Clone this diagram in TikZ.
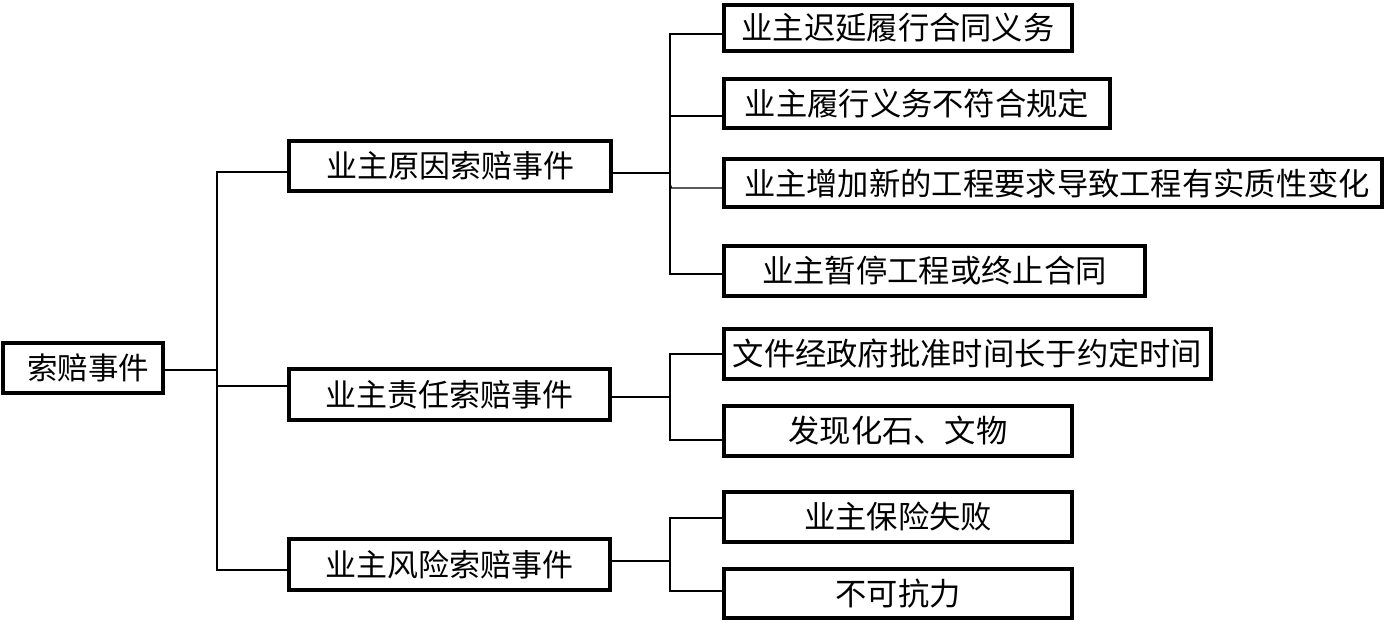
\documentclass[tikz,border=0pt]{standalone}
\usepackage{fontspec}
\setmainfont{Noto Sans CJK SC}
\begin{document}
\begin{tikzpicture}[x=1pt,y=-1pt,
  box/.style={draw=black,line width=4pt,inner sep=0pt,fill=white,align=center},
  conn/.style={draw=black,line width=1.4pt},
  mid/.style={box,font=\fontsize{31}{36}\selectfont},
  leaf/.style={box,font=\fontsize{31.3}{36}\selectfont}]
\useasboundingbox[fill=white] (0,0) rectangle (1386,622);
% nodes
\node[box,font=\fontsize{30.5}{36}\selectfont,minimum width=160pt,minimum height=50pt] (root) at (83,368) {\hspace{10pt}索赔事件};
\node[mid,minimum width=322pt,minimum height=50pt] (b1) at (450,166) {业主原因索赔事件};
\node[mid,minimum width=321pt,minimum height=51pt] (b2) at (449.5,394.5) {业主责任索赔事件};
\node[mid,minimum width=321pt,minimum height=51pt] (b3) at (449.5,564.5) {业主风险索赔事件};
\node[leaf,minimum width=348pt,minimum height=46pt] (l1) at (898,28) {业主迟延履行合同义务};
\node[leaf,minimum width=386pt,minimum height=49pt] (l2) at (917,103.5) {业主履行义务不符合规定};
\node[leaf,minimum width=658pt,minimum height=48pt] (l3) at (1053,183) {\hspace{8pt}业主增加新的工程要求导致工程有实质性变化};
\node[leaf,minimum width=421pt,minimum height=50pt] (l4) at (934.5,271) {业主暂停工程或终止合同};
\node[leaf,minimum width=487pt,minimum height=50pt] (l5) at (967.5,354) {文件经政府批准时间长于约定时间};
\node[leaf,minimum width=348pt,minimum height=50pt] (l6) at (898,431) {发现化石、文物};
\node[leaf,minimum width=348pt,minimum height=50pt] (l7) at (898,517) {业主保险失败};
\node[leaf,minimum width=348pt,minimum height=49pt] (l8) at (898,593.5) {不可抗力};
% junction coordinates
\coordinate (j0) at (217,370);
\coordinate (t1) at (217,172);
\coordinate (t2) at (217,386);
\coordinate (t3) at (217,570);
\coordinate (k1) at (670,173);
\coordinate (k2) at (670,397);
\coordinate (k3) at (670,561);
% connectors level 1
\draw[conn] (root.east |- j0) -- (j0);
\draw[conn] (b1.west |- t1) -- (t1) -- (t3) -- (b3.west |- t3);
\draw[conn] (t2) -- (b2.west |- t2);
% connectors level 2 (group 1)
\draw[conn] (b1.east |- k1) -- (k1);
\draw[conn] (l1.west |- 0,34) -| (670,274) -- (l4.west |- 0,274);
\draw[conn] (670,116) -- (l2.west |- 0,116);
\draw[conn] (670,184) -- (671.5,188) -- (l3.west |- 0,188);
% group 2
\draw[conn] (b2.east |- k2) -- (k2);
\draw[conn] (l5.west |- 0,354) -| (670,440) -- (l6.west |- 0,440);
% group 3
\draw[conn] (b3.east |- k3) -- (k3);
\draw[conn] (l7.west |- 0,518) -| (670,591) -- (l8.west |- 0,591);
\end{tikzpicture}
\end{document}
